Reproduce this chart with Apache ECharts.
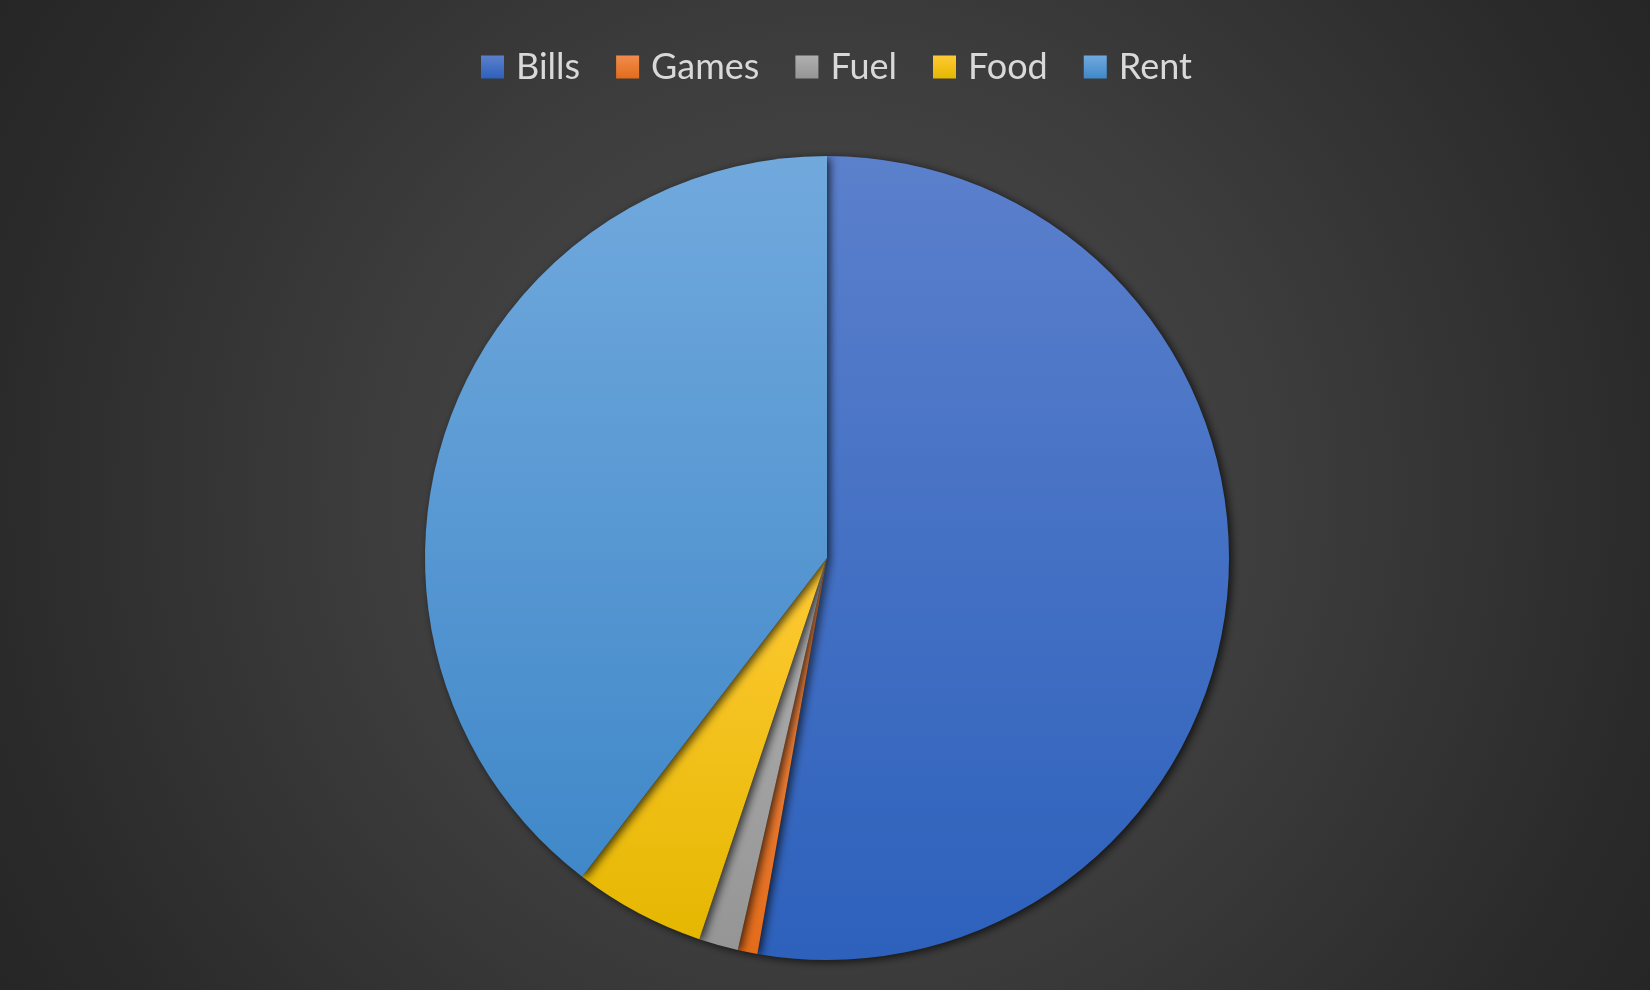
<!DOCTYPE html>
<html>
<head>
<meta charset="utf-8">
<script src="https://cdn.jsdelivr.net/npm/echarts@6/dist/echarts.min.js"></script>
<style>
html,body{margin:0;padding:0;background:#262626;}
#chart{width:1650px;height:990px;}
</style>
</head>
<body>
<div id="chart"></div>
<script>
const categories = ['Bills', 'Games', 'Fuel', 'Food', 'Rent'];
const values = [1000, 15, 30, 100, 750];
const topColors = ['#5b80cc', '#f08c4f', '#b0b0b0', '#ffca35', '#71a9dd'];
const bottomColors = ['#2d61bc', '#e36c1a', '#959595', '#e5b700', '#4088c9'];

function grad(i) {
  return new echarts.graphic.LinearGradient(0, 0, 0, 1, [
    { offset: 0, color: topColors[i] },
    { offset: 1, color: bottomColors[i] }
  ]);
}

const chart = echarts.init(document.getElementById('chart'), null, { renderer: 'canvas' });
chart.setOption({
  animation: false,
  backgroundColor: new echarts.graphic.RadialGradient(0.5, 0.5, 1, [
    { offset: 0, color: '#4d4d4d' },
    { offset: 0.45, color: '#3d3d3d' },
    { offset: 0.85, color: '#2a2a2a' },
    { offset: 1, color: '#252525' }
  ]),
  legend: {
    data: categories,
    left: 476,
    top: 44,
    icon: 'rect',
    itemWidth: 23,
    itemHeight: 23,
    itemGap: 36,
    textStyle: {
      color: '#d9d9d9',
      fontSize: 36,
      fontFamily: 'Lato',
      padding: [0, 0, 0, 7]
    }
  },
  series: [{
    type: 'pie',
    center: [827, 558],
    radius: 402,
    startAngle: 90,
    clockwise: true,
    label: { show: false },
    labelLine: { show: false },
    emphasis: { disabled: true },
    data: categories.map((c, i) => ({
      name: c,
      value: values[i],
      itemStyle: {
        color: grad(i),
        shadowBlur: 8,
        shadowOffsetX: 3,
        shadowOffsetY: 2,
        shadowColor: 'rgba(0,0,0,0.7)'
      }
    }))
  }]
});
</script>
</body>
</html>
